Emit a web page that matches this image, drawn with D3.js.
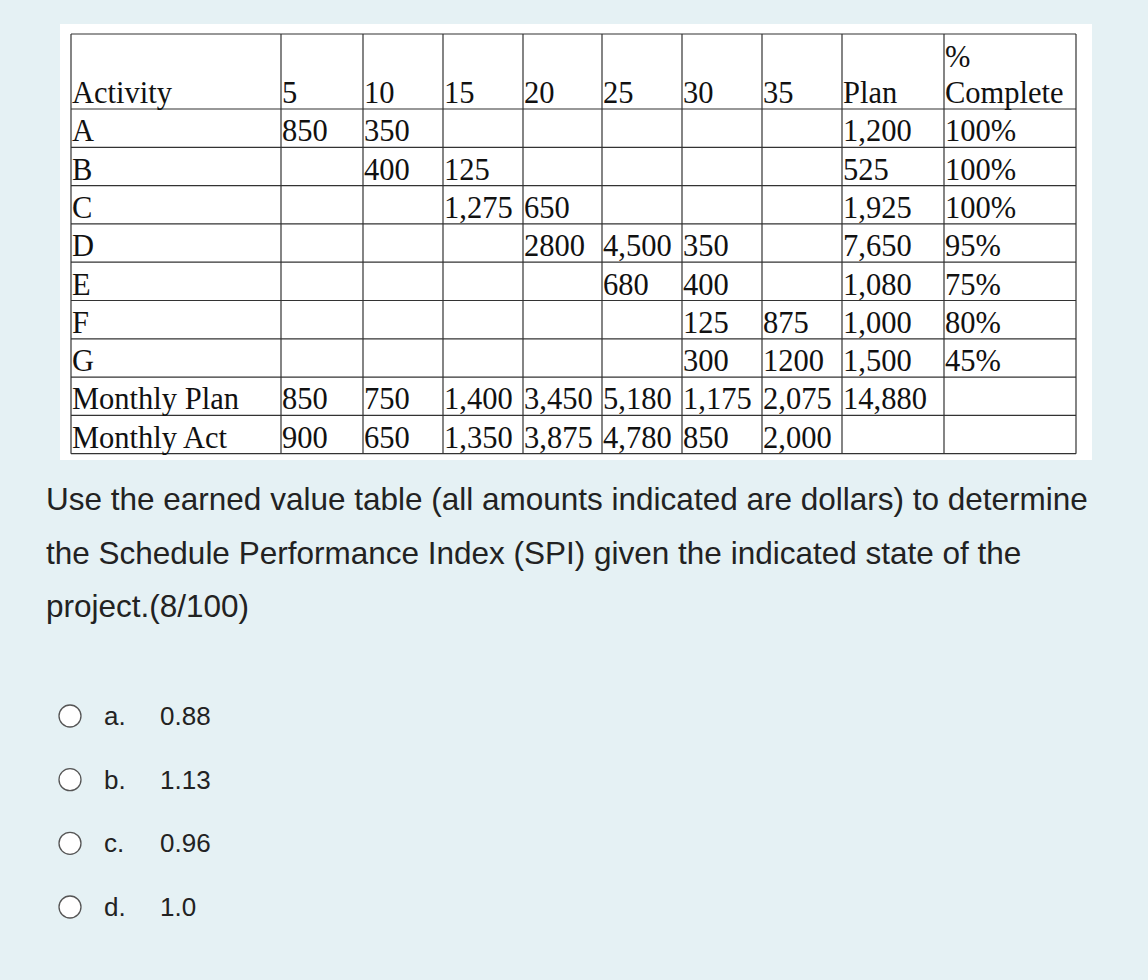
<!DOCTYPE html>
<html><head><meta charset="utf-8">
<script src="https://cdn.jsdelivr.net/npm/d3@7"></script>
<style>body{margin:0;background:#e5f1f4;}</style>
</head><body><svg id="chart" width="1148" height="980"></svg>
<script>
// table content
var headers = ["Activity","5","10","15","20","25","30","35","Plan","Complete"];
var rowLabels = ["A","B","C","D","E","F","G","Monthly Plan","Monthly Act"];
var rowCells = [
  ["850","350","","","","","","1,200","100%"],
  ["","400","125","","","","","525","100%"],
  ["","","1,275","650","","","","1,925","100%"],
  ["","","","2800","4,500","350","","7,650","95%"],
  ["","","","","680","400","","1,080","75%"],
  ["","","","","","125","875","1,000","80%"],
  ["","","","","","300","1200","1,500","45%"],
  ["850","750","1,400","3,450","5,180","1,175","2,075","14,880",""],
  ["900","650","1,350","3,875","4,780","850","2,000","",""]
];
var colEdges = [71,281,363,443,523,602,682,762,842,944,1076];
var question = ["Use the earned value table (all amounts indicated are dollars) to determine",
  "the Schedule Performance Index (SPI) given the indicated state of the",
  "project.(8/100)"];
var optLetters = ["a.","b.","c.","d."];
var optValues = ["0.88","1.13","0.96","1.0"];

var svg = d3.select("#chart");
svg.append("rect").attr("x",60).attr("y",24).attr("width",1032).attr("height",436).attr("fill","white");

var x = d => colEdges[d];
var rowEdges = [34,109].concat(d3.range(1,10).map(i => 109 + i*38.3));
var g = svg.append("g").attr("font-family","Liberation Serif, Times New Roman, serif").attr("font-size",30.5).attr("fill","#111");

// grid lines
g.selectAll(".v").data(colEdges).enter().append("line")
  .attr("x1",d=>d).attr("x2",d=>d).attr("y1",34).attr("y2",rowEdges[10])
  .attr("stroke","#333").attr("stroke-width",1.2);
g.selectAll(".h").data(rowEdges).enter().append("line")
  .attr("x1",71).attr("x2",1076).attr("y1",d=>d).attr("y2",d=>d)
  .attr("stroke","#333").attr("stroke-width",1.2);

// header
g.selectAll(".hd").data(headers).enter().append("text")
  .attr("x",(d,i)=>x(i)+1).attr("y",103).text(d=>d);
g.append("text").attr("x",x(9)+1).attr("y",67).text("%");

// rows
rowLabels.forEach(function(lab,r){
  var y = rowEdges[r+2]-6;
  g.append("text").attr("x",x(0)+1).attr("y",y).text(lab);
  g.selectAll(".c"+r).data(rowCells[r]).enter().append("text")
    .attr("x",(d,i)=>x(i+1)+1).attr("y",y).text(d=>d);
});

// question text
var q = svg.append("g").attr("font-family","Liberation Sans, Arial, sans-serif").attr("font-size",31.5).attr("fill","#222");
q.selectAll("text").data(question).enter().append("text")
  .attr("x",46).attr("y",(d,i)=>510+i*53.5).text(d=>d);

// options
var opt = svg.append("g").attr("font-family","Liberation Sans, Arial, sans-serif").attr("font-size",26).attr("fill","#222");
var oy = d3.scaleLinear().domain([0,3]).range([716,907]);
optLetters.forEach(function(l,i){
  opt.append("circle").attr("cx",70).attr("cy",oy(i)).attr("r",11)
    .attr("fill","white").attr("stroke","#555").attr("stroke-width",1.3);
  opt.append("text").attr("x",104).attr("y",oy(i)+9).text(l);
  opt.append("text").attr("x",160).attr("y",oy(i)+9).text(optValues[i]);
});
</script></body></html>
